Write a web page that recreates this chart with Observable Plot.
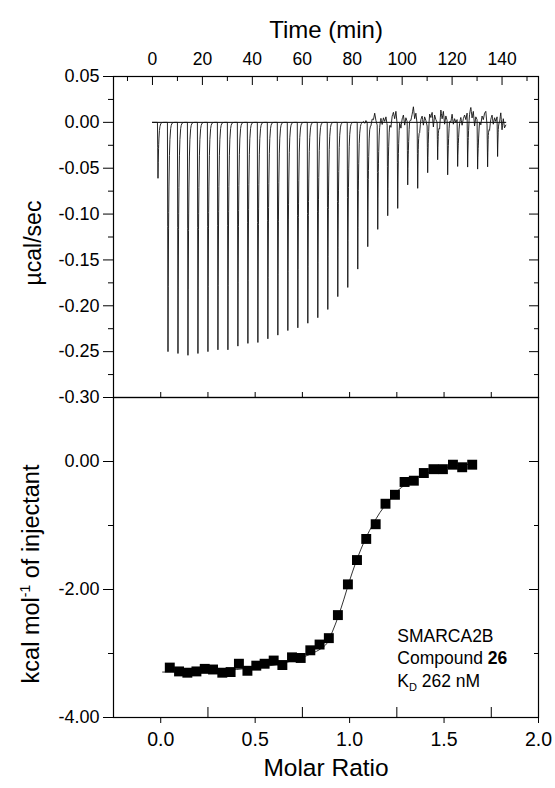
<!DOCTYPE html>
<html><head><meta charset="utf-8">
<script src="https://cdn.jsdelivr.net/npm/d3@7"></script>
<script src="https://cdn.jsdelivr.net/npm/@observablehq/plot@0.6"></script>
<style>
body{margin:0;background:#fff;}
#fig{position:relative;width:555px;height:788px;font-family:"Liberation Sans",Arial,sans-serif;}
#fig svg{position:absolute;left:0;}
</style></head><body><div id="fig"></div>
<script>
// ---------- DATA ----------
// Raw thermogram: injection times (min) and peak depth (µcal/sec)
const injectionTimes = [2, 6, 10, 14, 18, 22, 26, 30, 34, 38, 42, 46, 50, 54, 58, 62, 66, 70, 74, 78, 82, 86, 90, 94, 98, 102, 106, 110, 114, 118, 122, 126, 130, 134, 138];
const peakDepths = [-0.061, -0.250, -0.252, -0.254, -0.252, -0.250, -0.248, -0.248, -0.244, -0.241, -0.240, -0.236, -0.232, -0.227, -0.224, -0.219, -0.213, -0.204, -0.190, -0.180, -0.160, -0.136, -0.115, -0.101, -0.094, -0.067, -0.073, -0.054, -0.043, -0.057, -0.048, -0.057, -0.050, -0.049, -0.045];
// baseline noise of the trace (µcal/sec), every 0.5 min from 84 min
const noiseStart = 84;
const noiseStep = 0.5;
const baselineNoise = [0.000, 0.001, -0.001, 0.002, 0.000, 0.001, 0.002, -0.002, 0.004, 0.003,
  0.010, 0.002, -0.003, 0.000, 0.003, 0.006, -0.002, 0.005, 0.001, 0.006,
  -0.003, 0.002, 0.004, -0.004, 0.007, 0.011, 0.004, 0.012, -0.002, 0.003,
  0.006, -0.005, 0.004, 0.008, -0.003, 0.005, 0.001, -0.004, 0.006, 0.003,
  0.009, 0.017, 0.004, 0.010, -0.002, 0.005, -0.006, 0.004, 0.007, -0.003,
  0.006, 0.002, -0.004, 0.003, 0.013, 0.006, 0.011, -0.005, 0.008, 0.003,
  0.000, 0.005, -0.004, 0.014, 0.004, 0.012, -0.002, 0.007, 0.002, -0.003,
  0.005, 0.001, 0.009, -0.002, 0.004, 0.000, 0.003, -0.004, 0.002, 0.006,
  -0.003, 0.004, 0.008, 0.003, 0.010, 0.006, 0.013, 0.017, 0.005, 0.012,
  -0.004, 0.006, 0.003, -0.006, 0.004, -0.002, 0.007, 0.003, 0.010, 0.012,
  -0.003, 0.005, -0.005, 0.004, 0.008, -0.002, 0.005, 0.001, 0.006, 0.010,
  0.003, 0.011, -0.008, 0.004, -0.006, -0.003];
const traceStart = 0;
const traceEnd = 141.5;
const baselineSpan = [0, 141.5];

// Integrated heats
const molarRatio = [0.048, 0.097, 0.141, 0.189, 0.233, 0.277, 0.326, 0.370, 0.414, 0.459, 0.506, 0.550, 0.598, 0.644, 0.695, 0.741, 0.792, 0.841, 0.890, 0.938, 0.991, 1.039, 1.088, 1.138, 1.190, 1.240, 1.291, 1.340, 1.393, 1.444, 1.494, 1.547, 1.596, 1.649];
const heat = [-3.22, -3.28, -3.30, -3.28, -3.24, -3.25, -3.30, -3.29, -3.16, -3.27, -3.19, -3.16, -3.11, -3.18, -3.06, -3.07, -2.95, -2.86, -2.76, -2.40, -1.92, -1.54, -1.21, -0.98, -0.66, -0.52, -0.32, -0.30, -0.18, -0.12, -0.12, -0.05, -0.09, -0.05];
// Fitted curve
const fitRatio = [0.01, 0.1, 0.2, 0.3, 0.4, 0.5, 0.6, 0.7, 0.75, 0.8, 0.85, 0.88, 0.91, 0.94, 0.97, 1.0, 1.03, 1.06, 1.09, 1.12, 1.16, 1.2, 1.25, 1.3, 1.35, 1.4, 1.45, 1.5, 1.58, 1.65];
const fitHeat = [-3.29, -3.29, -3.28, -3.27, -3.25, -3.22, -3.18, -3.11, -3.06, -3.00, -2.92, -2.84, -2.65, -2.42, -2.15, -1.86, -1.60, -1.37, -1.17, -1.00, -0.80, -0.64, -0.47, -0.35, -0.26, -0.19, -0.14, -0.10, -0.06, -0.04];

// Ticks
const timeTicks = [0, 20, 40, 60, 80, 100, 120, 140];
const timeMinorTicks = [-10, 10, 30, 50, 70, 90, 110, 130, 150];
const rateTicks = [0.05, 0.00, -0.05, -0.10, -0.15, -0.20, -0.25, -0.30];
const rateMinorTicks = [0.025, -0.025, -0.075, -0.125, -0.175, -0.225, -0.275];
const ratioTicks = [0.0, 0.5, 1.0, 1.5, 2.0];
const ratioMinorTicks = [-0.25, 0.25, 0.75, 1.25, 1.75];
const boundaryTicks = [0, 0.25, 0.5, 0.75, 1.0, 1.25, 1.5, 1.75];
const heatTicks = [0, -2, -4];
const heatMinorTicks = [-1, -3];

// Texts
const timeTitle = "Time (min)";
const rateTitle = "µcal/sec";
const ratioTitle = "Molar Ratio";
const annoProtein = "SMARCA2B";
const annoCompound = ["Compound ", "26"];
const annoKd = ["K", "D", " 262 nM"];
const annoX = 1.255;
const annoY = [-2.83, -3.17, -3.53];

// ---------- BUILD TRACE TABLE ----------
const shapeOffsets = [-0.1, 0, 0.1, 0.22, 0.32, 0.45, 0.6, 0.8, 1.0, 1.3, 1.7, 2.2];
function shape(dt) { if (dt <= 0) return 0; if (dt <= 0.22) return dt / 0.22; return Math.exp(-(dt - 0.22) / 0.3); }
function noiseAt(t) {
  const u = (t - noiseStart) / noiseStep;
  if (u < 0) return 0;
  const i = Math.floor(u);
  if (i >= baselineNoise.length - 1) return baselineNoise[baselineNoise.length - 1];
  const f = u - i;
  return baselineNoise[i] * (1 - f) + baselineNoise[i + 1] * f;
}
const tset = new Set();
for (let k = 0; k * 0.5 + traceStart <= traceEnd + 1e-9; k++) tset.add(+(traceStart + k * 0.5).toFixed(3));
injectionTimes.forEach(ti => shapeOffsets.forEach(o => { const t = +(ti + o).toFixed(3); if (t >= traceStart && t <= traceEnd) tset.add(t); }));
const trace = Array.from(tset).sort((a, b) => a - b).map(t => {
  let v = noiseAt(t);
  injectionTimes.forEach((ti, i) => { v += peakDepths[i] * shape(t - ti); });
  return {t, v};
});
const heats = molarRatio.map((x, i) => ({x, y: heat[i]}));
const fit = fitRatio.map((x, i) => ({x, y: fitHeat[i]}));
const base = baselineSpan.map(t => ({t, v: 0}));

// ---------- LAYOUT ----------
const W = 555, ML = 113, MR = 17;
const panelW = W - ML - MR;
const font = '"Liberation Sans", Arial, sans-serif';
const fig = document.getElementById("fig");

// Top panel
const topH = 407, topMT = 76, topMB = 10;
const topPanelH = topH - topMT - topMB;
const topPlot = Plot.plot({
  width: W, height: topH, marginTop: topMT, marginBottom: topMB, marginLeft: ML, marginRight: MR,
  style: {background: "transparent", overflow: "visible", fontFamily: font, color: "#000"},
  x: {domain: [-15.6, 154.6], label: null},
  y: {domain: [-0.30, 0.05], label: null},
  marks: [
    Plot.axisX(timeTicks, {anchor: "top", tickSize: 0, tickPadding: 12, fontSize: 17.5, tickFormat: d => String(d), label: null}),
    Plot.ruleX(timeTicks, {insetBottom: topPanelH - 9, stroke: "#000"}),
    Plot.ruleX(timeMinorTicks, {insetBottom: topPanelH - 5, stroke: "#000"}),
    Plot.axisY(rateTicks, {anchor: "left", tickSize: 10, tickPadding: 4, fontSize: 18, tickFormat: d => d.toFixed(2), label: null}),
    Plot.ruleY(rateMinorTicks, {insetLeft: -5, insetRight: panelW, stroke: "#000"}),
    Plot.ruleY(rateTicks, {insetLeft: panelW - 9, stroke: "#000"}),
    Plot.ruleY(rateMinorTicks, {insetLeft: panelW - 4, stroke: "#000"}),
    Plot.line(base, {x: "t", y: "v", stroke: "#000", strokeWidth: 1}),
    Plot.line(trace, {x: "t", y: "v", stroke: "#111", strokeWidth: 0.9}),
    Plot.frame({stroke: "#000", strokeWidth: 1.2}),
    Plot.text([timeTitle], {text: d => d, frameAnchor: "top", dy: -56, fontSize: 24, fill: "#000"})
  ]
});
topPlot.style.top = "0px";
fig.appendChild(topPlot);
d3.select(topPlot).append("text")
  .attr("transform", "translate(41,243) rotate(-90)")
  .attr("text-anchor", "middle").attr("font-size", 23).attr("font-family", font).attr("fill", "#000")
  .text(rateTitle);

// Bottom panel
const botTop = 387;
const botH = 788 - botTop, botMT = 10, botMB = 71;
const botPanelH = botH - botMT - botMB;
const botPlot = Plot.plot({
  width: W, height: botH, marginTop: botMT, marginBottom: botMB, marginLeft: ML, marginRight: MR,
  style: {background: "transparent", overflow: "visible", fontFamily: font, color: "#000"},
  x: {domain: [-0.25, 2.0], label: null},
  y: {domain: [-4, 1], label: null},
  marks: [
    Plot.axisX(ratioTicks, {anchor: "bottom", tickSize: 6, tickPadding: 9, fontSize: 19.5, tickFormat: d => d.toFixed(1), label: null}),
    Plot.ruleX(ratioMinorTicks, {insetTop: botPanelH - 10, stroke: "#000"}),
    Plot.ruleX(boundaryTicks, {insetTop: -5, insetBottom: botPanelH, stroke: "#000"}),
    Plot.axisY(heatTicks, {anchor: "left", tickSize: 10, tickPadding: 4, fontSize: 18, tickFormat: d => d.toFixed(2), label: null}),
    Plot.ruleY(heatMinorTicks, {insetLeft: -5, insetRight: panelW, stroke: "#000"}),
    Plot.ruleY(heatTicks, {insetLeft: panelW - 9, stroke: "#000"}),
    Plot.ruleY(heatMinorTicks, {insetLeft: panelW - 4, stroke: "#000"}),
    Plot.line(fit, {x: "x", y: "y", curve: "monotone-x", stroke: "#333", strokeWidth: 1}),
    Plot.dot(heats, {x: "x", y: "y", symbol: "square", r: 5.6, fill: "#000", stroke: "none"}),
    Plot.frame({stroke: "#000", strokeWidth: 1.2}),
    Plot.text([ratioTitle], {text: d => d, frameAnchor: "bottom", dy: 58, fontSize: 24.5, fill: "#000"})
  ]
});
botPlot.style.top = botTop + "px";
fig.appendChild(botPlot);

const bsel = d3.select(botPlot);
const yl = bsel.append("text")
  .attr("transform", `translate(39,${574 - botTop}) rotate(-90)`)
  .attr("text-anchor", "middle").attr("font-size", 23.5).attr("font-family", font).attr("fill", "#000");
yl.append("tspan").text("kcal mol");
yl.append("tspan").attr("font-size", 14).attr("dy", -9).text("-1");
yl.append("tspan").attr("dy", 9).text(" of injectant");

const sx = botPlot.scale("x"), sy = botPlot.scale("y");
const ax = sx.apply(annoX);
const ag = bsel.append("g").attr("font-family", font).attr("font-size", 17.5).attr("fill", "#000").attr("text-anchor", "start");
ag.append("text").attr("text-anchor", "start").attr("x", ax).attr("y", sy.apply(annoY[0])).text(annoProtein);
const c = ag.append("text").attr("text-anchor", "start").attr("x", ax).attr("y", sy.apply(annoY[1]));
c.append("tspan").text(annoCompound[0]);
c.append("tspan").attr("font-weight", "bold").text(annoCompound[1]);
const k = ag.append("text").attr("text-anchor", "start").attr("x", ax).attr("y", sy.apply(annoY[2]));
k.append("tspan").text(annoKd[0]);
k.append("tspan").attr("font-size", 11).attr("dy", 4).text(annoKd[1]);
k.append("tspan").attr("dy", -4).text(annoKd[2]);
</script></body></html>
